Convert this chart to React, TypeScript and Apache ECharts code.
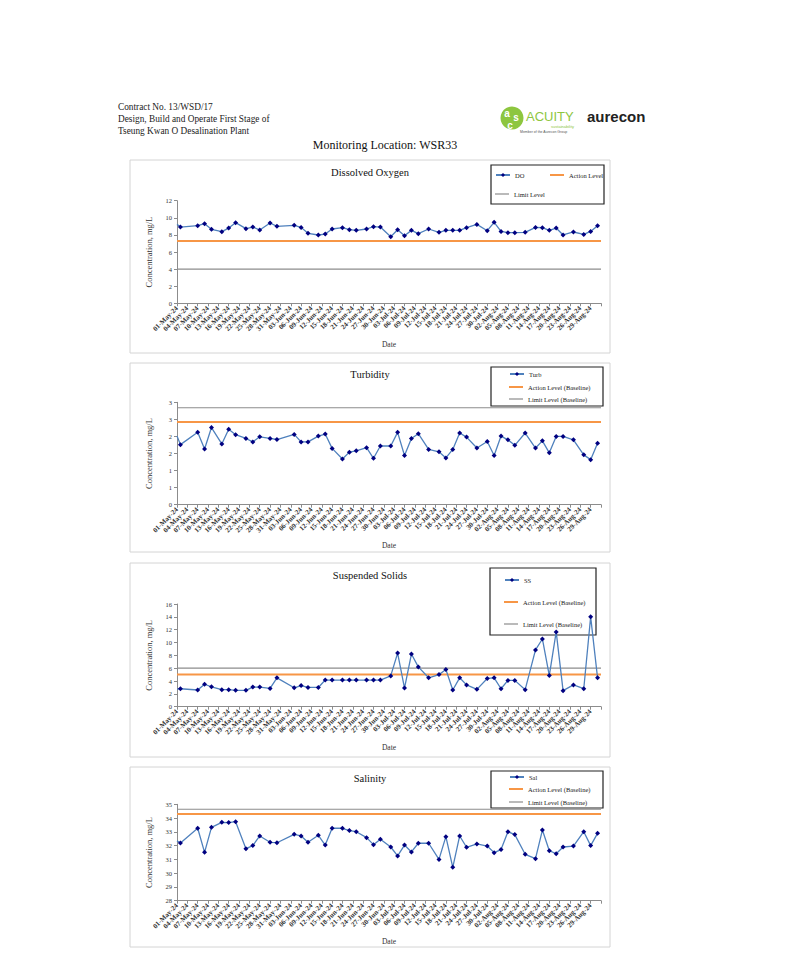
import React, { useEffect, useRef } from 'react';
import * as echarts from 'echarts';

// ---------- DATA ----------
const MONTHS = ['May', 'Jun', 'Jul', 'Aug', 'Sep'];
const MONTH_DAYS = [31, 30, 31, 31, 1];

const sampleDates = [
  '01-May-24', '02-May-24', '07-May-24', '09-May-24', '11-May-24', '14-May-24', '16-May-24', '18-May-24',
  '21-May-24', '23-May-24', '25-May-24', '28-May-24', '30-May-24',
  '04-Jun-24', '06-Jun-24', '08-Jun-24', '11-Jun-24', '13-Jun-24', '15-Jun-24', '18-Jun-24', '20-Jun-24',
  '22-Jun-24', '25-Jun-24', '27-Jun-24', '29-Jun-24',
  '02-Jul-24', '04-Jul-24', '06-Jul-24', '08-Jul-24', '10-Jul-24', '13-Jul-24', '16-Jul-24', '18-Jul-24',
  '20-Jul-24', '22-Jul-24', '24-Jul-24', '27-Jul-24', '30-Jul-24',
  '01-Aug-24', '03-Aug-24', '05-Aug-24', '07-Aug-24', '10-Aug-24', '13-Aug-24', '15-Aug-24', '17-Aug-24',
  '19-Aug-24', '21-Aug-24', '24-Aug-24', '27-Aug-24', '29-Aug-24', '31-Aug-24',
];

const doValues = [
  9.23, 8.92, 9.08, 9.31, 8.65, 8.38, 8.8, 9.43, 8.73, 8.92, 8.57, 9.39, 9.0,
  9.12, 8.88, 8.18, 7.99, 8.1, 8.69, 8.84, 8.61, 8.53, 8.69, 8.96, 8.92,
  7.79, 8.61, 7.91, 8.53, 8.14, 8.69, 8.3, 8.53, 8.53, 8.53, 8.84, 9.23, 8.49,
  9.47, 8.41, 8.26, 8.26, 8.3, 8.88, 8.84, 8.53, 8.8, 7.99, 8.34, 8.06, 8.41, 9.08,
];

const turbValues = [
  2.01, 1.76, 2.12, 1.63, 2.26, 1.78, 2.21, 2.05, 1.94, 1.84, 1.99, 1.94, 1.91,
  2.06, 1.84, 1.84, 2.01, 2.07, 1.65, 1.34, 1.54, 1.58, 1.67, 1.36, 1.72,
  1.72, 2.12, 1.44, 1.94, 2.08, 1.62, 1.55, 1.37, 1.62, 2.1, 1.98, 1.66, 1.85,
  1.44, 2.01, 1.9, 1.74, 2.1, 1.66, 1.87, 1.52, 2.0, 2.0, 1.9, 1.46, 1.32, 1.8,
];

const ssValues = [
  2.75, 2.8, 2.6, 3.5, 3.1, 2.65, 2.65, 2.55, 2.55, 3.05, 3.05, 2.85, 4.5,
  2.95, 3.3, 3.0, 3.0, 4.15, 4.15, 4.15, 4.15, 4.15, 4.15, 4.15, 4.15,
  4.8, 8.35, 2.9, 8.2, 6.2, 4.5, 5.0, 5.8, 2.6, 4.5, 3.4, 2.7, 4.4,
  4.5, 2.8, 4.1, 4.1, 2.65, 8.85, 10.55, 4.85, 11.65, 2.5, 3.4, 2.8, 14.0, 4.5,
];

const salValues = [
  32.34, 32.19, 33.26, 31.51, 33.33, 33.69, 33.67, 33.74, 31.78, 32.0, 32.7, 32.24, 32.21,
  32.82, 32.7, 32.24, 32.75, 32.04, 33.26, 33.26, 33.09, 33.01, 32.58, 32.07, 32.46,
  31.9, 31.25, 32.04, 31.54, 32.17, 32.17, 31.0, 32.65, 30.42, 32.7, 31.88, 32.12, 31.97,
  31.49, 31.71, 33.01, 32.8, 31.37, 31.05, 33.13, 31.63, 31.41, 31.9, 31.97, 33.01, 32.0, 32.89,
];

const actionLevels = [7.3, 2.42, 5.0, 34.3];
const limitLevels = [4.0, 2.84, 6.0, 34.64];

const chartTitles = ['Dissolved Oxygen', 'Turbidity', 'Suspended Solids', 'Salinity'];
const seriesNames = ['DO', 'Turb', 'SS', 'Sal'];
const actionNames = ['Action Level', 'Action Level (Baseline)', 'Action Level (Baseline)', 'Action Level (Baseline)'];
const limitNames = ['Limit Level', 'Limit Level (Baseline)', 'Limit Level (Baseline)', 'Limit Level (Baseline)'];
const yMins = [0, 0, 0, 28];
const yMaxs = [12, 3, 16, 35];
const yIntervals = [2, 0.5, 2, 1];

const headerLines = [
  'Contract No. 13/WSD/17',
  'Design, Build and Operate First Stage of',
  'Tseung Kwan O Desalination Plant',
];
const pageTitle = 'Monitoring Location: WSR33';

// ---------- LAYOUT ----------
const SERIF = "'Liberation Serif', 'Times New Roman', serif";
const SANS = "'Liberation Sans', Arial, sans-serif";

const layouts = [
  { box: [130, 160, 480, 193], plotTop: 200.7, plotBottom: 303.3, titleY: 172,
    legendBox: [491, 165, 113, 39],
    legendPos: [[495, 175], [550, 175], [495, 194]] },
  { box: [130, 363, 480, 189], plotTop: 402.3, plotBottom: 504.7, titleY: 374,
    legendBox: [491, 367, 112, 39],
    legendPos: [[509, 374], [509, 387], [509, 399]] },
  { box: [130, 563, 480, 194], plotTop: 604, plotBottom: 706.7, titleY: 575,
    legendBox: [490, 568, 106, 67],
    legendPos: [[504, 580], [504, 602], [504, 624]] },
  { box: [130, 767, 480, 180], plotTop: 804.3, plotBottom: 900.7, titleY: 778,
    legendBox: [491, 771, 112, 37],
    legendPos: [[509, 777], [509, 789], [509, 802]] },
];
const PLOT_LEFT = 177;
const PLOT_WIDTH = 424;

const SERIES_LINE = '#4F81BD';
const SERIES_MARK = '#000080';
const ACTION_COLOR = '#F79646';
const LIMIT_COLOR = '#8C8C8C';

function buildDateLabels(): string[] {
  const out: string[] = [];
  MONTHS.forEach((m, i) => {
    for (let d = 1; d <= MONTH_DAYS[i]; d++) out.push(`${String(d).padStart(2, '0')}-${m}-24`);
  });
  return out;
}

export default function App() {
  const ref = useRef<HTMLDivElement>(null);

  useEffect(() => {
    if (!ref.current) return;
    const chart = echarts.init(ref.current, undefined, { renderer: 'svg' });
    const dateLabels = buildDateLabels();
    const lastCat = dateLabels[dateLabels.length - 1];
    const values = [doValues, turbValues, ssValues, salValues];

    const grids: any[] = [];
    const xAxes: any[] = [];
    const yAxes: any[] = [];
    const series: any[] = [];
    const legends: any[] = [];
    const graphics: any[] = [];

    layouts.forEach((L, i) => {
      grids.push({
        left: PLOT_LEFT, top: L.plotTop, width: PLOT_WIDTH, height: L.plotBottom - L.plotTop,
      });
      xAxes.push({
        gridIndex: i,
        type: 'category',
        data: dateLabels,
        boundaryGap: false,
        axisLine: { lineStyle: { color: '#8c8c8c', width: 1 } },
        axisTick: { interval: (idx: number) => idx % 3 === 0, length: 3, lineStyle: { color: '#8c8c8c' } },
        axisLabel: {
          interval: (idx: number) => idx % 3 === 0 && idx <= 120,
          rotate: 45, fontSize: 7, fontWeight: 'bold', fontFamily: SERIF, color: '#333', margin: 4,
        },
        name: 'Date', nameLocation: 'middle', nameGap: 37,
        nameTextStyle: { fontFamily: SERIF, fontSize: 7.5, color: '#333' },
      });
      yAxes.push({
        gridIndex: i,
        type: 'value',
        min: yMins[i], max: yMaxs[i], interval: yIntervals[i],
        axisLine: { show: true, lineStyle: { color: '#8c8c8c', width: 1 } },
        axisTick: { show: true, length: 3, lineStyle: { color: '#8c8c8c' } },
        splitLine: { show: false },
        axisLabel: {
          fontSize: 6.5, fontFamily: SERIF, color: '#333', margin: 5,
          formatter: (v: number) => String(Math.round(v)),
        },
        name: 'Concentration, mg/L', nameLocation: 'middle', nameRotate: 90, nameGap: 24,
        nameTextStyle: { fontFamily: SERIF, fontSize: 8.5, color: '#333' },
      });
      series.push({
        type: 'line', name: actionNames[i], xAxisIndex: i, yAxisIndex: i,
        data: [[dateLabels[0], actionLevels[i]], [lastCat, actionLevels[i]]],
        symbol: 'none', lineStyle: { color: ACTION_COLOR, width: 2 }, itemStyle: { color: ACTION_COLOR }, z: 2,
      });
      series.push({
        type: 'line', name: limitNames[i], xAxisIndex: i, yAxisIndex: i,
        data: [[dateLabels[0], limitLevels[i]], [lastCat, limitLevels[i]]],
        symbol: 'none', lineStyle: { color: LIMIT_COLOR, width: 1.2 }, itemStyle: { color: LIMIT_COLOR }, z: 2,
      });
      series.push({
        type: 'line', name: seriesNames[i], xAxisIndex: i, yAxisIndex: i,
        data: sampleDates.map((d, k) => (k === 0 ? { value: [d, values[i][k]], symbol: 'none' } : [d, values[i][k]])),
        symbol: 'diamond', symbolSize: 5, showAllSymbol: true, showSymbol: true,
        lineStyle: { color: SERIES_LINE, width: 1.3 },
        itemStyle: { color: SERIES_MARK },
        z: 3,
      });

      const textStyle = { fontFamily: SERIF, fontSize: 6.5, color: '#222', lineHeight: 8 };
      legends.push({
        data: [seriesNames[i]], left: L.legendPos[0][0], top: L.legendPos[0][1] - 4,
        itemWidth: 14, itemHeight: 5, padding: 0, selectedMode: false, textStyle,
      });
      legends.push({
        data: [{ name: actionNames[i], icon: 'rect' }], left: L.legendPos[1][0], top: L.legendPos[1][1] - 4,
        itemWidth: 14, itemHeight: 2, padding: 0, selectedMode: false, textStyle,
        itemStyle: { color: ACTION_COLOR },
      });
      legends.push({
        data: [{ name: limitNames[i], icon: 'rect' }], left: L.legendPos[2][0], top: L.legendPos[2][1] - 4,
        itemWidth: 14, itemHeight: 1.2, padding: 0, selectedMode: false, textStyle,
        itemStyle: { color: LIMIT_COLOR },
      });

      graphics.push({
        type: 'rect', shape: { x: L.box[0], y: L.box[1], width: L.box[2], height: L.box[3] },
        style: { fill: 'none', stroke: '#D4D4D4', lineWidth: 1 }, silent: true,
      });
      graphics.push({
        type: 'rect', shape: { x: L.legendBox[0], y: L.legendBox[1], width: L.legendBox[2], height: L.legendBox[3] },
        style: { fill: 'none', stroke: '#222', lineWidth: 1.2 }, silent: true,
      });
      graphics.push({
        type: 'text', x: 370, y: L.titleY,
        style: { text: chartTitles[i], fill: '#111', font: `10.5px ${SERIF}`, textAlign: 'center', textVerticalAlign: 'middle' },
      });
    });

    headerLines.forEach((t, k) => {
      graphics.push({
        type: 'text', x: 118, y: 107 + k * 12,
        style: { text: t, fill: '#222', font: `9.3px ${SERIF}`, textAlign: 'left', textVerticalAlign: 'middle' },
      });
    });
    graphics.push({
      type: 'text', x: 385, y: 145,
      style: { text: pageTitle, fill: '#111', font: `12px ${SERIF}`, textAlign: 'center', textVerticalAlign: 'middle' },
    });
    // logos
    graphics.push({ type: 'circle', shape: { cx: 512, cy: 118, r: 11.5 }, style: { fill: '#8DC63F' } });
    graphics.push({ type: 'text', x: 507, y: 113, style: { text: 'a', fill: '#fff', font: `bold 10px ${SANS}`, textAlign: 'center', textVerticalAlign: 'middle' } });
    graphics.push({ type: 'text', x: 516, y: 117, style: { text: 's', fill: '#fff', font: `bold 10px ${SANS}`, textAlign: 'center', textVerticalAlign: 'middle' } });
    graphics.push({ type: 'text', x: 510, y: 125, style: { text: 'c', fill: '#fff', font: `bold 10px ${SANS}`, textAlign: 'center', textVerticalAlign: 'middle' } });
    graphics.push({ type: 'text', x: 526, y: 116, style: { text: 'ACUITY', fill: '#8DC63F', font: `13px ${SANS}`, textAlign: 'left', textVerticalAlign: 'middle' } });
    graphics.push({ type: 'text', x: 574, y: 126, style: { text: 'sustainability', fill: '#8DC63F', font: `4px ${SANS}`, textAlign: 'right', textVerticalAlign: 'middle' } });
    graphics.push({ type: 'text', x: 520, y: 132, style: { text: 'Member of the Aurecon Group', fill: '#555', font: `3.5px ${SANS}`, textAlign: 'left', textVerticalAlign: 'middle' } });
    graphics.push({ type: 'text', x: 587, y: 116, style: { text: 'aurecon', fill: '#222', font: `bold 15px ${SANS}`, textAlign: 'left', textVerticalAlign: 'middle' } });

    chart.setOption({
      animation: false,
      backgroundColor: '#fff',
      grid: grids,
      xAxis: xAxes,
      yAxis: yAxes,
      legend: legends,
      series,
      graphic: graphics,
    });
    return () => chart.dispose();
  }, []);

  return <div ref={ref} style={{ position: 'absolute', left: 0, top: 0, width: 794, height: 954 }} />;
}
